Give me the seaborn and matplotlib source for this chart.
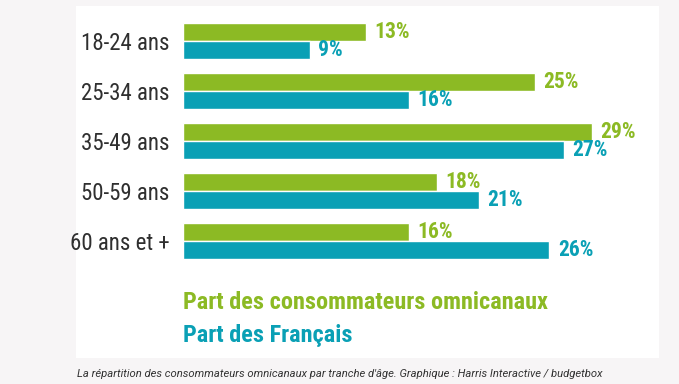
import matplotlib
matplotlib.use("Agg")
import matplotlib.pyplot as plt
from matplotlib import font_manager
from matplotlib.patches import Rectangle
import seaborn as sns
import pandas as pd

# ---- data ----
ages = ["18-24 ans", "25-34 ans", "35-49 ans", "50-59 ans", "60 ans et +"]
omni = [13, 25, 29, 18, 16]
francais = [9, 16, 27, 21, 26]
series_names = ["Part des consommateurs omnicanaux", "Part des Français"]
caption = ("La répartition des consommateurs omnicanaux par tranche d'âge. "
           "Graphique : Harris Interactive / budgetbox")

GREEN = "#8cba24"
TEAL = "#0aa0b5"
DARK = "#2f2f2f"

available = {f.name for f in font_manager.fontManager.ttflist}
def pick(cands):
    for c in cands:
        if c in available:
            return c
    return "DejaVu Sans"

NARROW = pick(["Liberation Sans Narrow", "DejaVu Sans Condensed", "Roboto Condensed",
               "Open Sans Condensed", "Roboto", "Liberation Sans"])
CAPF = pick(["Roboto", "Lato", "DejaVu Sans"])

df = pd.DataFrame({
    "age": ages * 2,
    "serie": [series_names[0]] * len(ages) + [series_names[1]] * len(ages),
    "valeur": omni + francais,
})

sns.set_theme(style="white")
W, H = 679, 384
fig = plt.figure(figsize=(W / 100, H / 100), dpi=100)
fig.patch.set_facecolor("#f7f5f6")

# white panel
fig.patches.append(Rectangle((76 / W, 1 - 358 / H), (659 - 76) / W, (358 - 6) / H,
                             transform=fig.transFigure, facecolor="white",
                             edgecolor="none", zorder=-10))

left_px, right_px = 183, 634
top_px, bottom_px = 16, 266
ax = fig.add_axes([left_px / W, 1 - bottom_px / H, (right_px - left_px) / W,
                   (bottom_px - top_px) / H])
ax.set_zorder(5)
ax.patch.set_alpha(0)

sns.barplot(data=df, y="age", x="valeur", hue="serie", order=ages,
            hue_order=series_names, palette=[GREEN, TEAL], orient="h",
            width=0.74, gap=0.05, ax=ax, legend=False, errorbar=None,
            saturation=1)

ax.set_xlim(0, 32)
ax.set_ylim(4.5, -0.5)
for s in ax.spines.values():
    s.set_visible(False)
ax.set_xticks([])
ax.set_xlabel("")
ax.set_ylabel("")
ax.tick_params(axis="y", length=0, pad=9.5)
for lab in ax.get_yticklabels():
    lab.set_fontfamily(NARROW)
    lab.set_fontsize(16.5)
    lab.set_color(DARK)

for cont, vals, col in zip(ax.containers, [omni, francais], [GREEN, TEAL]):
    ax.bar_label(cont, labels=[f"{v}%" for v in vals], padding=6, color=col,
                 fontsize=15.5, fontweight="bold", fontfamily=NARROW)

# legend as text
fig.text(183 / W, 1 - 309 / H, series_names[0], color=GREEN, fontsize=17.5,
         fontweight="bold", fontfamily=NARROW, ha="left", va="baseline")
fig.text(183 / W, 1 - 342 / H, series_names[1], color=TEAL, fontsize=17.5,
         fontweight="bold", fontfamily=NARROW, ha="left", va="baseline")

fig.text(77 / W, 1 - 377 / H, caption, color="#333333", fontsize=8.15,
         fontstyle="italic", fontfamily=CAPF, ha="left", va="baseline")

fig.savefig("out.png", dpi=100, facecolor=fig.get_facecolor())
